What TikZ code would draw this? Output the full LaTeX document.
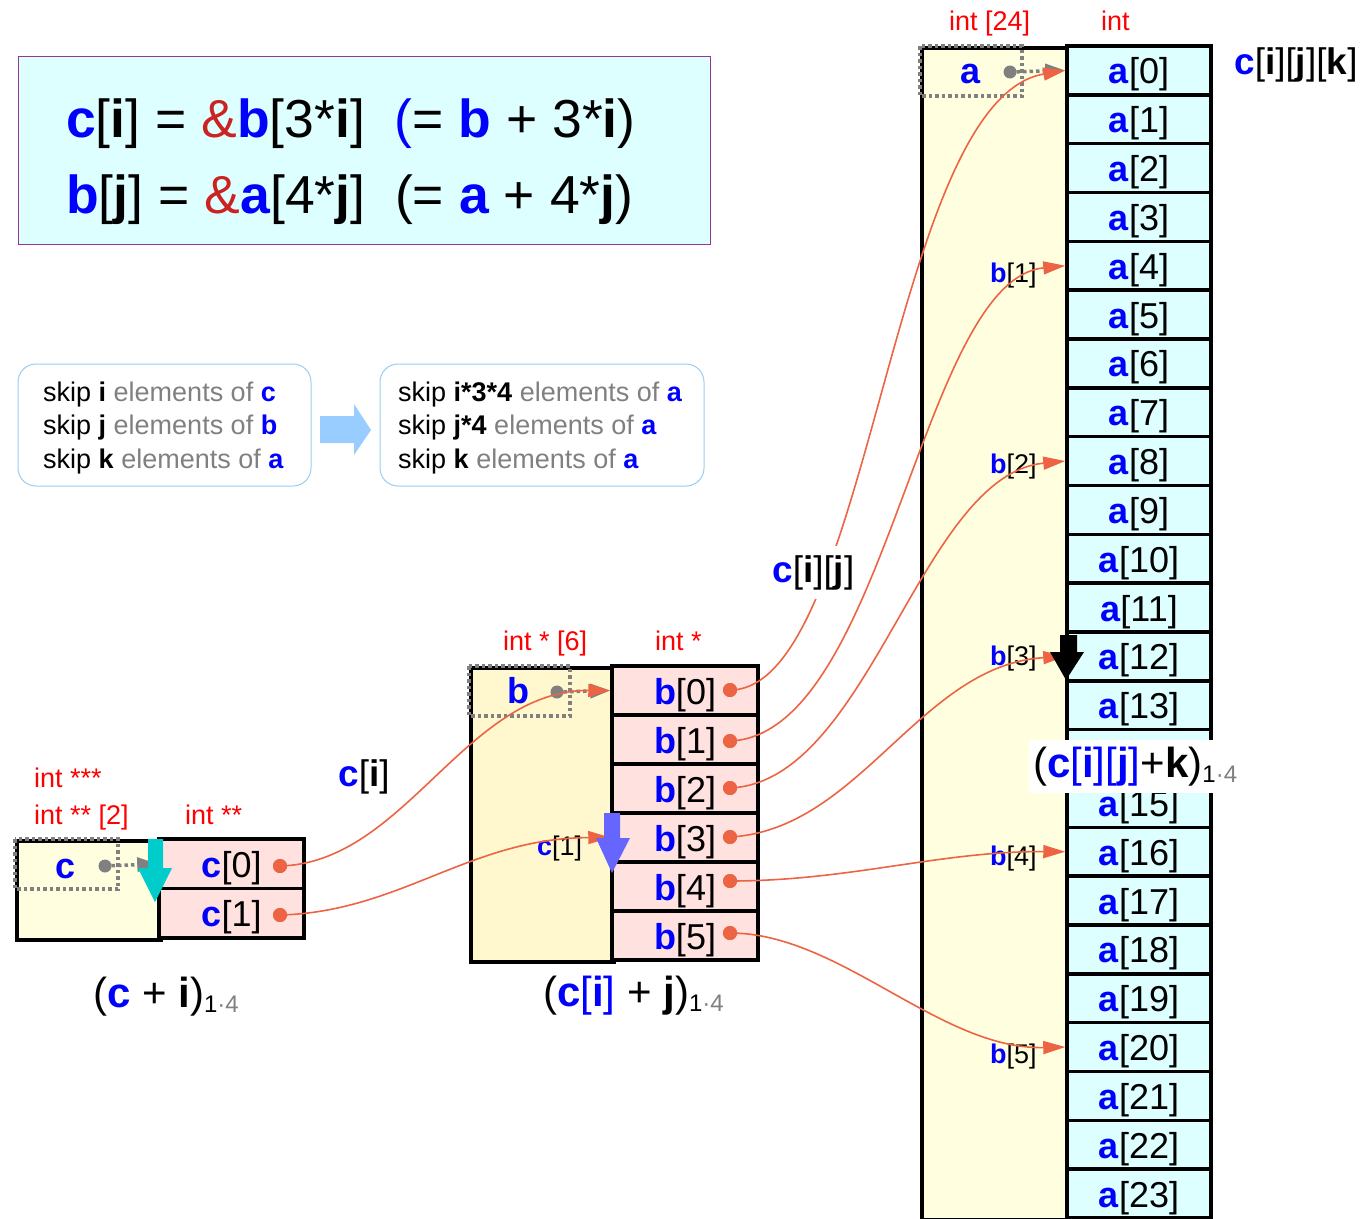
\documentclass[tikz,border=0pt]{standalone}
\usepackage{fontspec}
\setmainfont{Liberation Sans}
\usetikzlibrary{arrows.meta}
\definecolor{ored}{RGB}{236,100,68}
\definecolor{ayel}{RGB}{255,255,224}
\definecolor{byel}{RGB}{255,247,206}
\definecolor{pinkc}{RGB}{255,226,224}
\definecolor{cyanc}{RGB}{221,255,255}
\definecolor{purp}{RGB}{153,51,153}
\definecolor{lblue}{RGB}{153,204,238}
\definecolor{arrblue}{RGB}{153,204,255}
\definecolor{cyarr}{RGB}{0,204,204}
\definecolor{barr}{RGB}{102,102,255}
\definecolor{gtext}{RGB}{128,128,128}
\definecolor{ampred}{RGB}{204,34,34}
\newcommand{\myfs}[1]{\fontsize{#1}{#1}\selectfont}
\newcommand{\bl}[1]{\textcolor{blue}{\textbf{#1}}}
\newcommand{\kb}[1]{\textbf{#1}}
\newcommand{\gt}[1]{\textcolor{gtext}{#1}}
\newcommand{\subl}{\raisebox{-5pt}{\myfs{24}1\textcolor{gtext}{·4}}}
\begin{document}
\begin{tikzpicture}[x=1pt,y=-1pt,
  acell/.style={draw=black, line width=3.5pt, fill=cyanc, minimum width=144pt, minimum height=48.83pt, inner sep=0pt, text height=27pt, text depth=0pt, font=\myfs{36}},
  bcell/.style={draw=black, line width=3.5pt, fill=pinkc, minimum width=146pt, minimum height=49pt, inner sep=0pt, text height=27pt, text depth=0pt, font=\myfs{36}},
  ccell/.style={draw=black, line width=3.5pt, fill=pinkc, minimum width=145pt, minimum height=49.5pt, inner sep=0pt, text height=27pt, text depth=0pt, font=\myfs{36}},
  holder/.style={draw=black, line width=3.5pt, anchor=north west, inner sep=0pt},
  dotbox/.style={draw=gtext, line width=3.5pt, dash pattern=on 3.5pt off 3pt},
  garrow/.style={draw=gtext, line width=3.5pt, dash pattern=on 3.5pt off 3pt, -{Triangle[length=20pt,width=14pt]}},
  gdot/.style={circle, fill=gtext, inner sep=0pt, minimum size=13pt},
  odot/.style={circle, fill=ored, inner sep=0pt, minimum size=14pt},
  oarrow/.style={draw=ored, line width=1.6pt, -{Triangle[length=22pt,width=13pt]}},
  redlbl/.style={anchor=base west, inner sep=0pt, text=red, font=\myfs{27}},
  smalllbl/.style={anchor=base west, inner sep=0pt, font=\myfs{27}},
  biglbl/.style={anchor=base west, inner sep=0pt, font=\myfs{37}},
  exprlbl/.style={anchor=base west, inner sep=0pt, font=\myfs{42}},
  skipbox/.style={draw=lblue, line width=1pt, rounded corners=18pt, inner sep=0pt},
  skiptext/.style={anchor=west, inner sep=0pt, align=left, font=\fontsize{27}{33.5}\selectfont}
]
\useasboundingbox (0,0) rectangle (1372,1218);

% ---------- formula box ----------
\node[draw=purp, fill=cyanc, line width=1pt, minimum width=692pt, minimum height=188pt, anchor=north west, inner sep=0pt] (fbox) at (18,56) {};
\node[anchor=base west, inner sep=0pt, font=\myfs{53.5}] (f1) at (66,137)
  {\bl{c}[\kb{i}] = \textcolor{ampred}{\&}\bl{b}[3*\kb{i}]\ \ \textcolor{blue}{(}= \bl{b} + 3*\kb{i})};
\node[anchor=base west, inner sep=0pt, font=\myfs{53.5}] (f2) at (66,213)
  {\bl{b}[\kb{j}] = \textcolor{ampred}{\&}\bl{a}[4*\kb{j}]\ \ (= \bl{a} + 4*\kb{j})};

% ---------- skip boxes ----------
\node[skipbox, minimum width=293pt, minimum height=122pt] (s1) at (164.5,425) {};
\node[skiptext] (s1t) at (43,428)
  {skip \kb{i} \gt{elements of} \bl{c}\\ skip \kb{j} \gt{elements of} \bl{b}\\ skip \kb{k} \gt{elements of} \bl{a}};
\node[skipbox, minimum width=324pt, minimum height=122pt] (s2) at (542,425) {};
\node[skiptext] (s2t) at (398,428)
  {skip \kb{i*3*4} \gt{elements of} \bl{a}\\ skip \kb{j*4} \gt{elements of} \bl{a}\\ skip \kb{k} \gt{elements of} \bl{a}};
\fill[arrblue] (320,416) -- (354,416) -- (354,404) -- (371,430) -- (354,455) -- (354,443) -- (320,443) -- cycle;

% ---------- c array ----------
\node[holder, fill=ayel, minimum width=144pt, minimum height=99pt] (carr) at (15,839) {};
\node[ccell] (c0) at (231.5,863.75) {\bl{c}[0]};
\node[ccell] (c1) at (231.5,913.25) {\bl{c}[1]};
\draw[dotbox] (15,839) rectangle (118,889);
\node[anchor=base, inner sep=0pt, font=\myfs{36}] (cname) at (66,878) {\bl{c}};
\node[gdot] (cdot) at (105,866) {};
\draw[garrow] (cdot.center) -- (c0.west);
\node[redlbl] (t1) at (34,787) {int ***};
\node[redlbl] (t2) at (34,824) {int ** [2]};
\node[redlbl] (t3) at (185,824) {int **};
\node[exprlbl] (e1) at (93,1007) {(\bl{c} + \kb{i})\subl};

% ---------- b array ----------
\node[holder, fill=byel, minimum width=143pt, minimum height=294pt] (barr) at (469,666) {};
\foreach \i in {0,...,5}{
  \node[bcell] (b\i) at (685,{666+49*(\i+0.5)}) {\bl{b}[\i]};
}
\draw[dotbox] (469,666) rectangle (570,716);
\node[anchor=base, inner sep=0pt, font=\myfs{36}] (bname) at (518,703) {\bl{b}};
\node[gdot] (bdot) at (557,692) {};
\draw[garrow] (bdot.center) -- (b0.west);
\node[redlbl] (t4) at (503,650) {int * [6]};
\node[redlbl] (t5) at (655,650) {int *};
\node[exprlbl] (e2) at (543,1006) {(\bl{c}\textcolor{blue}{[\textbf{i}]} + \kb{j})\subl};

% ---------- a array ----------
\node[holder, fill=ayel, minimum width=147pt, minimum height=1172pt] (aarr) at (920,46) {};
\foreach \i in {0,...,23}{
  \node[acell] (a\i) at (1139,{46+48.83*(\i+0.5)}) {\ifnum\i=14 \else\bl{a}[\i]\fi};
}
\draw[dotbox] (920,46) rectangle (1022,96);
\node[anchor=base, inner sep=0pt, font=\myfs{36}] (aname) at (971,83) {\bl{a}};
\node[gdot] (adot) at (1010,72) {};
\draw[garrow] (adot.center) -- (a0.west);
\node[redlbl] (t6) at (949,30) {int [24]};
\node[redlbl] (t7) at (1101,30) {int};
\node[biglbl] (cijk) at (1234,74) {\bl{c}[\kb{i}][\kb{j}][\kb{k}]};

% ---------- labels ----------
\node[biglbl] (lci) at (338,786) {\bl{c}[\kb{i}]};
\node[smalllbl] (lc1) at (537,855) {\bl{c}[1]};
\node[smalllbl] (lb1) at (990,282) {\bl{b}[1]};
\node[smalllbl] (lb2) at (990,473) {\bl{b}[2]};
\node[smalllbl] (lb3) at (990,665) {\bl{b}[3]};
\node[smalllbl] (lb4) at (990,865) {\bl{b}[4]};
\node[smalllbl] (lb5) at (990,1063) {\bl{b}[5]};

% ---------- dots ----------
\node[odot] (cd0) at (280,866) {};
\node[odot] (cd1) at (280,915) {};
\node[odot] (bd0) at (730,690) {};
\node[odot] (bd1) at (730,741) {};
\node[odot] (bd2) at (730,788) {};
\node[odot] (bd3) at (730,837) {};
\node[odot] (bd4) at (730,881) {};
\node[odot] (bd5) at (730,933) {};

% ---------- curves ----------
\draw[oarrow] (cd0.center) .. controls (405,863) and (465,690) .. (b0.west);
\draw[oarrow] (cd1.center) .. controls (400,912) and (470,838) .. (b3.west);
\draw[oarrow] (bd0.center) .. controls (870,690) and (890,100) .. (a0.west);
% label that hides part of the first curve
\node[anchor=base west, fill=white, inner xsep=3pt, inner ysep=9pt, font=\myfs{37}] (lcij) at (769,582) {\bl{c}[\kb{i}][\kb{j}]};
\draw[oarrow] (bd1.center) .. controls (886,735) and (920,280) .. (a4.west);
\draw[oarrow] (bd2.center) .. controls (870,782) and (920,475) .. (a8.west);
\draw[oarrow] (bd3.center) .. controls (860,830) and (920,665) .. (a12.west);
\draw[oarrow] (bd4.center) .. controls (850,881) and (940,851) .. (a16.west);
\draw[oarrow] (bd5.center) .. controls (840,933) and (940,1050) .. (a20.west);
\foreach \n in {cd0,cd1,bd0,bd1,bd2,bd3,bd4,bd5}{\fill[ored] (\n) circle (7pt);}

\node[anchor=base west, fill=white, inner xsep=4pt, inner ysep=7pt, font=\myfs{42}] (ck) at (1029,777)
  {(\bl{c}\textcolor{blue}{[\textbf{i}][\textbf{j}]}+\kb{k})\subl};

% ---------- block arrows ----------
\fill[cyarr] (148,839) -- (163,839) -- (163,868) -- (172,868) -- (155,902) -- (138,868) -- (148,868) -- cycle;
\fill[barr] (604,813) -- (620,813) -- (620,838) -- (630,838) -- (612,873) -- (596,838) -- (604,838) -- cycle;
\fill[black] (1060,635) -- (1077,635) -- (1077,652) -- (1084,652) -- (1066,680) -- (1050,652) -- (1060,652) -- cycle;
\end{tikzpicture}
\end{document}
